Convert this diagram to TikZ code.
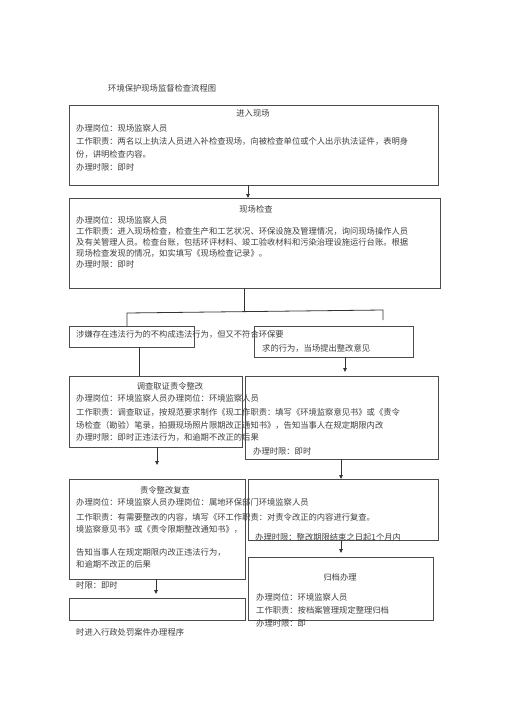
\documentclass[tikz,border=0pt]{standalone}
\usepackage{fontspec}
\newfontfamily\cjk{Noto Sans CJK SC}
\usetikzlibrary{arrows.meta}
\begin{document}
\begin{tikzpicture}[x=1pt,y=-1pt,
  box/.style={draw=black!70,line width=0.9pt},
  txt/.style={anchor=west,inner sep=0pt,text=black!75,font=\cjk\fontsize{8.3}{10}\selectfont},
  ctxt/.style={anchor=center,inner sep=0pt,text=black!75,font=\cjk\fontsize{8.3}{10}\selectfont},
  ln/.style={draw=black!80,line width=0.8pt},
  arr/.style={ln,-{Triangle[length=4pt,width=3.5pt]}}]
\useasboundingbox (0,0) rectangle (505,714);
\fill[white] (0,0) rectangle (505,714);
% title
\node[txt] (title) at (108,88) {环境保护现场监督检查流程图};
% box 1
\draw[box] (69,105) rectangle (438,185);
\coordinate (b1b) at (248,185);
\node[ctxt] (t1h) at (253,113) {进入现场};
\node[txt] (t1a) at (76,128) {办理岗位：现场监察人员};
\node[txt] (t1b) at (76,141) {工作职责：两名以上执法人员进入补检查现场，向被检查单位或个人出示执法证件，表明身};
\node[txt] (t1c) at (76,154) {份，讲明检查内容。};
\node[txt] (t1d) at (76,167) {办理时限：即时};
% box 2
\draw[box] (69,198) rectangle (440,288);
\coordinate (b2t) at (248,198);
\draw[arr] (b1b) -- (b2t);
\node[ctxt] (t2h) at (256,209) {现场检查};
\node[txt] (t2a) at (76,220) {办理岗位：现场监察人员};
\node[txt] (t2b) at (76,231) {工作职责：进入现场检查，检查生产和工艺状况、环保设施及管理情况，询问现场操作人员};
\node[txt] (t2c) at (76,242) {及有关管理人员。检查台账，包括环评材料、竣工验收材料和污染治理设施运行台账。根据};
\node[txt] (t2d) at (76,253) {现场检查发现的情况，如实填写《现场检查记录》。};
\node[txt] (t2e) at (76,264) {办理时限：即时};
% split
\coordinate (b2b) at (244,288);
\coordinate (s0) at (244,311);
\coordinate (sl) at (127,313);
\coordinate (sr) at (383,310);
\coordinate (srd) at (383,320);
\coordinate (b3at) at (127,326);
\draw[ln] (b2b) -- (s0);
\draw[ln] (b3at) -- (sl) -- (sr) -- (srd);
% box 3
\draw[box] (69,326) rectangle (194,347);
\draw[box] (254,326) rectangle (413,357);
\node[txt] (t3a) at (76,334) {涉嫌存在违法行为的不构成违法行为，但又不符合环保要};
\node[txt] (t3b) at (262,348) {求的行为，当场提出整改意见};
% box 4
\draw[box] (69,376) rectangle (242,447);
\draw[box] (245,376) rectangle (438,459);
\coordinate (b3ab) at (139,347);
\coordinate (b4at) at (139,376);
\draw[ln] (b3ab) -- (b4at);
\coordinate (b3bb) at (345,357);
\coordinate (b3be) at (345,372);
\draw[arr] (b3bb) -- (b3be);
\node[ctxt] (t4h) at (170,386) {调查取证责令整改};
\node[txt] (t4a) at (76,398) {办理岗位：环境监察人员办理岗位：环境监察人员};
\node[txt] (t4b) at (76,412) {工作职责：调查取证，按规范要求制作《现工作职责：填写《环境监察意见书》或《责令};
\node[txt] (t4c) at (76,425) {场检查（勘验）笔录，拍摄现场照片限期改正通知书》，告知当事人在规定期限内改};
\node[txt] (t4d) at (76,437) {办理时限：即时正违法行为，和逾期不改正的后果};
\node[txt] (t4e) at (253,451) {办理时限：即时};
% box 5
\draw[box] (69,479) rectangle (245,579);
\draw[box] (248,479) rectangle (438,540);
\coordinate (b4ab) at (157,447);
\coordinate (b4ae) at (157,465);
\draw[arr] (b4ab) -- (b4ae);
\coordinate (b4bb) at (341,459);
\coordinate (b5bt) at (341,479);
\draw[arr] (b4bb) -- (b5bt);
\node[ctxt] (t5h) at (165,490) {责令整改复查};
\node[txt] (t5a) at (76,502) {办理岗位：环境监察人员办理岗位：属地环保部门环境监察人员};
\node[txt] (t5b) at (76,517) {工作职责：有需要整改的内容，填写《环工作职责：对责令改正的内容进行复查。};
\node[txt] (t5c) at (76,529) {境监察意见书》或《责令限期整改通知书》，};
\node[txt] (t5d) at (255,537) {办理时限：整改期限结束之日起1个月内};
\node[txt] (t5e) at (76,552) {告知当事人在规定期限内改正违法行为，};
\node[txt] (t5f) at (76,564) {和逾期不改正的后果};
% box 6
\draw[box] (248,557) rectangle (433,620);
\draw[box] (69,598) rectangle (245,620);
\coordinate (b5bb) at (341,540);
\coordinate (b5be) at (341,553);
\draw[arr] (b5bb) -- (b5be);
\coordinate (b5ab) at (156,579);
\coordinate (b5ae) at (156,594);
\draw[arr] (b5ab) -- (b5ae);
\node[txt] (t5g) at (76,585) {时限：即时};
\node[ctxt] (t6h) at (340,577) {归档办理};
\node[txt] (t6a) at (256,597) {办理岗位：环境监察人员};
\node[txt] (t6b) at (256,610) {工作职责：按档案管理规定整理归档};
\node[txt] (t6c) at (256,623) {办理时限：即};
\node[txt] (t6d) at (76,632) {时进入行政处罚案件办理程序};
\end{tikzpicture}
\end{document}
